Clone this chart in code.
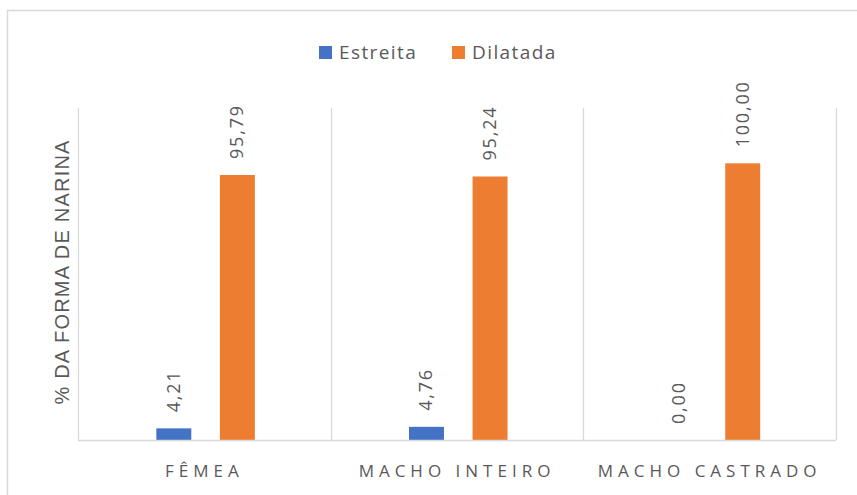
<!DOCTYPE html>
<html>
<head>
<meta charset="utf-8">
<script src="https://cdn.jsdelivr.net/npm/d3@7"></script>
<style>
  html, body { margin: 0; padding: 0; background: #fff; }
  svg { display: block; }
</style>
</head>
<body>
<div id="chart"></div>
<script>
const categories = ['FÊMEA', 'MACHO INTEIRO', 'MACHO CASTRADO']
const seriesNames = ['Estreita', 'Dilatada']
const estreita = [4.21, 4.76, 0.0]
const dilatada = [95.79, 95.24, 100.0]
const yTitle = '% DA FORMA DE NARINA'

const width = 857
const height = 495
const margin = { top: 108, right: 21, bottom: 55, left: 78 }
const colors = { Estreita: '#4472C4', Dilatada: '#ED7D31' }
const textColor = '#595959'
const lineColor = '#D9D9D9'
const font = '"Open Sans", "Noto Sans", sans-serif'

const rows = categories.map((c, i) => ({ cat: c, Estreita: estreita[i], Dilatada: dilatada[i] }))

const svg = d3
  .select('#chart')
  .append('svg')
  .attr('width', width)
  .attr('height', height)

// chart frame
svg
  .append('rect')
  .attr('x', 7.5)
  .attr('y', 10.5)
  .attr('width', 900)
  .attr('height', 600)
  .attr('fill', '#fff')
  .attr('stroke', lineColor)
  .attr('stroke-width', 1.5)

const x0 = d3
  .scaleBand()
  .domain(categories)
  .range([margin.left, width - margin.right])
  .padding(0)

const bw = x0.bandwidth()
const x1 = d3
  .scaleBand()
  .domain(seriesNames)
  .range([bw * 0.31, bw * 0.70])
  .paddingInner(0.45)
  .paddingOuter(0)

const y = d3
  .scaleLinear()
  .domain([0, 120])
  .range([height - margin.bottom, margin.top])

// separators between categories
const seps = categories.map((c) => x0(c)).concat([x0.range()[1]])
svg
  .append('g')
  .selectAll('line')
  .data(seps)
  .join('line')
  .attr('x1', (d) => Math.round(d) + 0.5)
  .attr('x2', (d) => Math.round(d) + 0.5)
  .attr('y1', y(120))
  .attr('y2', y(0))
  .attr('stroke', lineColor)
  .attr('stroke-width', 1.3)

// bars
const groups = svg
  .append('g')
  .selectAll('g')
  .data(rows)
  .join('g')
  .attr('transform', (d) => `translate(${x0(d.cat)},0)`)

const bars = groups
  .selectAll('g')
  .data((d) => seriesNames.map((s) => ({ key: s, value: d[s] })))
  .join('g')

bars
  .append('rect')
  .attr('x', (d) => x1(d.key))
  .attr('width', x1.bandwidth())
  .attr('y', (d) => y(d.value))
  .attr('height', (d) => y(0) - y(d.value))
  .attr('fill', (d) => colors[d.key])

bars
  .append('text')
  .attr('transform', (d) => `translate(${x1(d.key) + x1.bandwidth() / 2 + 6},${y(d.value) - 16}) rotate(-90)`)
  .attr('font-family', font)
  .attr('font-size', 18)
  .attr('letter-spacing', 1.8)
  .attr('fill', textColor)
  .text((d) => d3.format('.2f')(d.value).replace('.', ','))

// baseline
svg
  .append('line')
  .attr('x1', x0.range()[0])
  .attr('x2', x0.range()[1])
  .attr('y1', Math.round(y(0)) + 0.5)
  .attr('y2', Math.round(y(0)) + 0.5)
  .attr('stroke', lineColor)
  .attr('stroke-width', 1.5)

// category labels
svg
  .append('g')
  .selectAll('text')
  .data(categories)
  .join('text')
  .attr('x', (d) => x0(d) + bw / 2)
  .attr('y', 477)
  .attr('text-anchor', 'middle')
  .attr('font-family', font)
  .attr('font-size', 17)
  .attr('letter-spacing', 5)
  .attr('fill', textColor)
  .text((d) => d)

// y title
svg
  .append('text')
  .attr('transform', `translate(69,272) rotate(-90)`)
  .attr('text-anchor', 'middle')
  .attr('font-family', '"Liberation Sans", Arial, sans-serif')
  .attr('font-size', 20)
  .attr('letter-spacing', 1.2)
  .attr('fill', textColor)
  .text(yTitle)

// legend
const legendX = [319, 452]
const legend = svg
  .append('g')
  .selectAll('g')
  .data(seriesNames)
  .join('g')
  .attr('transform', (d, i) => `translate(${legendX[i]},46)`)

legend
  .append('rect')
  .attr('width', 13)
  .attr('height', 13)
  .attr('fill', (d) => colors[d])

legend
  .append('text')
  .attr('x', 20)
  .attr('y', 13)
  .attr('font-family', font)
  .attr('font-size', 19)
  .attr('letter-spacing', 1.4)
  .attr('fill', textColor)
  .text((d) => d)
</script>
</body>
</html>
